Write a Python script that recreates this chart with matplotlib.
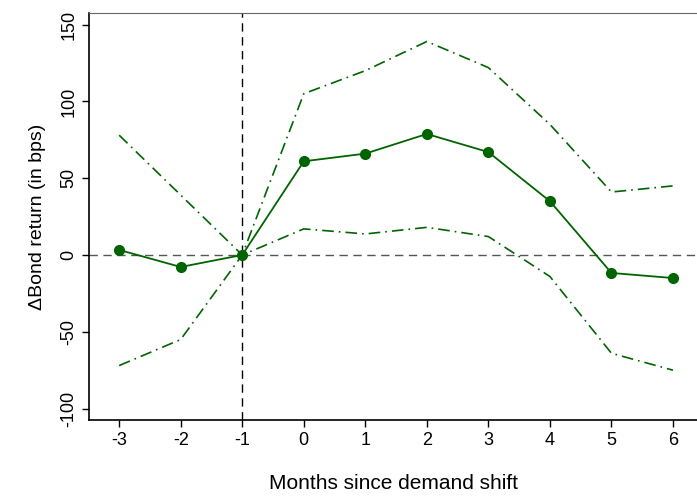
import matplotlib.pyplot as plt
import matplotlib
matplotlib.rcParams['font.family'] = ['Liberation Sans', 'DejaVu Sans']
matplotlib.rcParams['axes.unicode_minus'] = False

months = [-3, -2, -1, 0, 1, 2, 3, 4, 5, 6]
coef = [3.3, -7.8, 0, 61, 66, 78.8, 67, 35, -11.7, -15]
upper = [78, 39, 0, 105, 120, 139, 122, 85, 41, 45]
lower = [-72, -55, 0, 17, 13.7, 18, 12, -14, -64, -75]

green = (0/255, 100/255, 0/255)

fig = plt.figure(figsize=(6.97, 4.97), dpi=100)
ax = fig.add_axes([0.1277, 0.155, 0.8723, 0.819])

ax.axhline(0, color="#555555", linestyle=(0, (6, 4)), linewidth=1.0, zorder=1)
ax.axvline(-1, color="black", linestyle=(0, (6, 4)), linewidth=1.0, zorder=1)

ax.plot(months, upper, color=green, linewidth=1.2, linestyle=(0, (7, 3, 1, 3)))
ax.plot(months, lower, color=green, linewidth=1.2, linestyle=(0, (7, 3, 1, 3)))
ax.plot(months, coef, color=green, linewidth=1.3, marker="o", markersize=7)

ax.set_xlim(-3.49, 6.39)
ax.set_ylim(-107.4, 157.6)
ax.set_xticks(months)
ax.set_yticks([-100, -50, 0, 50, 100, 150])
ax.tick_params(axis='both', labelsize=13, length=5, width=1)
for lab in ax.get_yticklabels():
    lab.set_rotation(90)
    lab.set_va("center")

ax.spines['top'].set_color("#666666")
ax.spines['right'].set_visible(False)
ax.spines['left'].set_linewidth(1.2)
ax.spines['bottom'].set_linewidth(1.2)

ax.set_xlabel("Months since demand shift", fontsize=15, labelpad=18)
ax.set_ylabel("\u0394Bond return (in bps)", fontsize=14, labelpad=10)

plt.savefig("out.png")
